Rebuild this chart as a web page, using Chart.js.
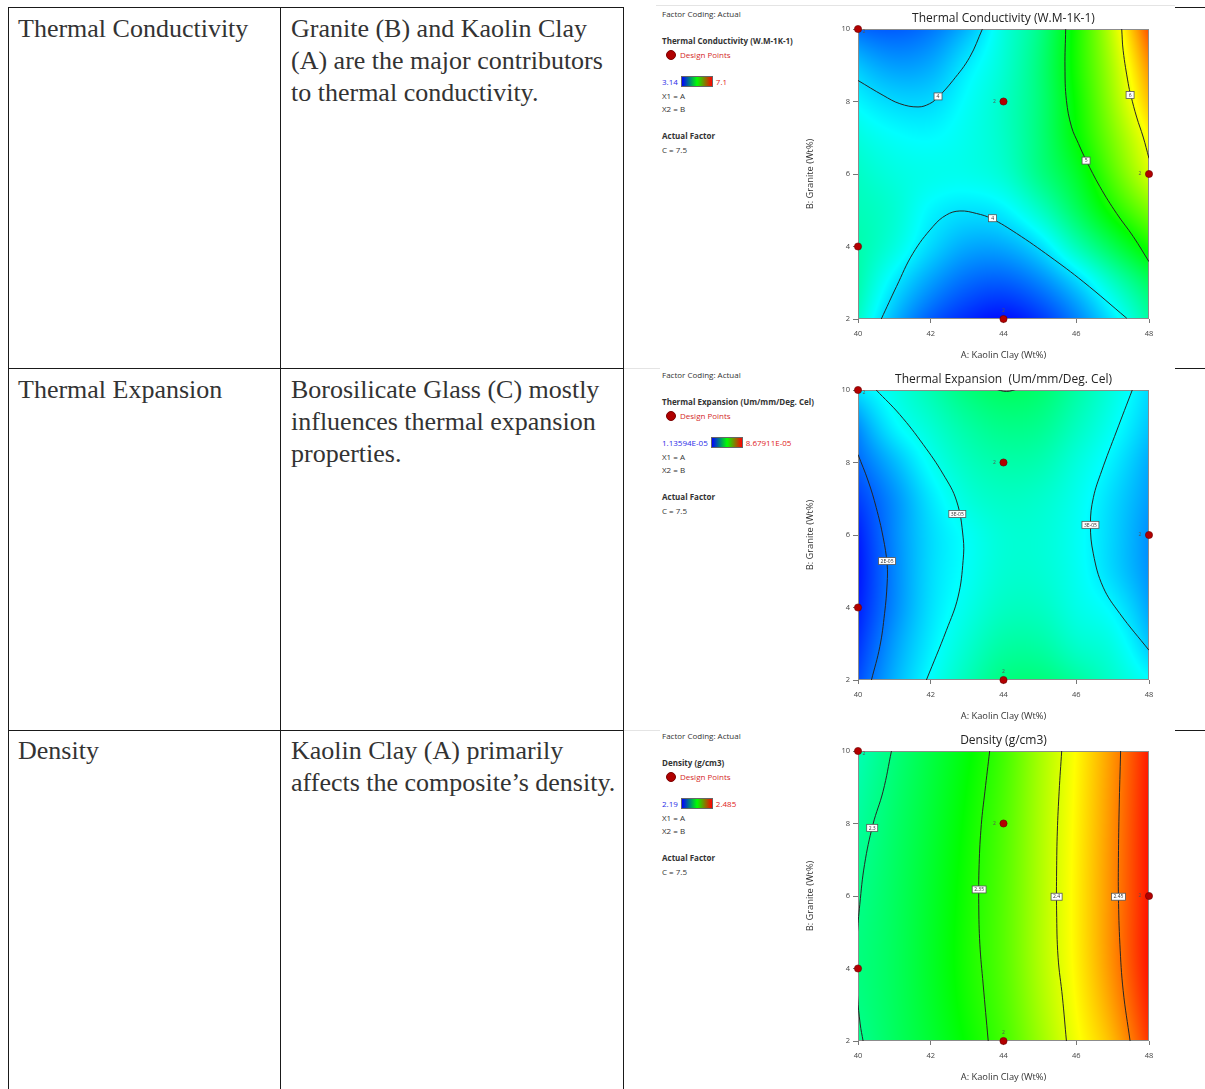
<!DOCTYPE html>
<html>
<head>
<meta charset="utf-8">
<script src="https://cdn.jsdelivr.net/npm/chart.js@4.4.1/dist/chart.umd.min.js"></script>
<style>
    body { margin: 0; background: #fff; width: 1205px; height: 1089px; overflow: hidden; position: relative; }
    .rule { position: absolute; background: #1a1a1a; }
    .soft { position: absolute; background: #e4e4e4; }
    .cell { position: absolute; font-family: 'Liberation Serif', serif; font-size: 26px; line-height: 32px; color: #333; white-space: nowrap; }
    .legend { position: absolute; left: 662px; width: 140px; height: 170px; font-family: 'Open Sans', sans-serif; font-size: 8px; color: #333; }
    .legend div { position: absolute; left: 0; white-space: nowrap; line-height: 10px; }
    .legend .bold { font-weight: bold; }
    .legend .dot { width: 10px; height: 10px; border-radius: 50%; background: #b00000; border: 1px solid #7a0000; box-sizing: border-box; left: 4px; }
    .legend .dp { left: 18px; color: #d42a2a; }
    .legend .bar { display: flex; align-items: center; }
    .legend .bar span.lo { color: #2a2ae8; }
    .legend .bar span.hi { color: #e02020; }
    .legend .bar span.ramp { display: inline-block; width: 32px; height: 11px; margin: 0 3px 0 3px; border: 1px solid #666; box-sizing: border-box;
        background: linear-gradient(to right, #0000ff, #00ff00, #ff0000); }
    canvas { position: absolute; left: 800px; }
</style>
</head>
<body>
<div id="page"></div>
<canvas id="chartTC" width="405" height="365" style="top:0px"></canvas>
<canvas id="chartTE" width="405" height="365" style="top:361px"></canvas>
<canvas id="chartDen" width="405" height="365" style="top:722px"></canvas>
<script>
// Jadval matnlari
const rowNames = ['Thermal Conductivity', 'Thermal Expansion', 'Density'];
const rowNotes = [
    ['Granite (B) and Kaolin Clay', '(A) are the major contributors', 'to thermal conductivity.'],
    ['Borosilicate Glass (C) mostly', 'influences thermal expansion', 'properties.'],
    ['Kaolin Clay (A) primarily', 'affects the composite\u2019s density.']
];

// Umumiy o'qlar
const kaolinTicks = [40, 42, 44, 46, 48];
const graniteTicks = [2, 4, 6, 8, 10];
const kaolinGrid = [40, 41, 42, 43, 44, 45, 46, 47, 48];
const graniteRows9 = [10, 9, 8, 7, 6, 5, 4, 3, 2];
const graniteRows5 = [10, 8, 6, 4, 2];

// Dizayn nuqtalari
const designKaolin = [40, 40, 44, 44, 48];
const designGranite = [10, 4, 8, 2, 6];
const designRuns = ['2', '', '2', '2', '2'];

// Thermal Conductivity (W.M-1K-1)
const tcMin = 3.14, tcMax = 7.1;
const tcGrid = [
    [3.55, 3.50, 3.60, 3.85, 4.25, 4.60, 5.20, 5.90, 6.80],
    [3.90, 3.75, 3.80, 4.05, 4.30, 4.65, 5.20, 5.80, 6.55],
    [4.10, 3.98, 3.98, 4.15, 4.35, 4.65, 5.15, 5.72, 6.35],
    [4.25, 4.15, 4.12, 4.20, 4.35, 4.65, 5.10, 5.60, 6.12],
    [4.35, 4.25, 4.20, 4.20, 4.30, 4.60, 4.95, 5.45, 5.95],
    [4.40, 4.30, 4.10, 4.02, 4.08, 4.35, 4.75, 5.20, 5.60],
    [4.45, 4.25, 3.98, 3.80, 3.80, 4.00, 4.40, 4.80, 5.20],
    [4.45, 4.05, 3.75, 3.55, 3.50, 3.65, 3.95, 4.35, 4.75],
    [4.35, 3.85, 3.50, 3.30, 3.20, 3.35, 3.65, 4.05, 4.50]
];
const tcLine4Top = [[40, 8.58], [40.69, 8.17], [41.15, 7.94], [41.65, 7.85], [41.97, 7.94], [42.2, 8.12], [42.61, 8.58], [43.07, 9.22], [43.42, 10]];
const tcLine4Bottom = [[40.64, 2], [41.06, 2.9], [41.51, 3.81], [42.06, 4.55], [42.43, 4.87], [42.8, 4.98], [43.26, 4.91], [43.67, 4.77], [44.36, 4.36], [45.28, 3.72], [46.19, 3.03], [47.39, 2.02]];
const tcLine5 = [[45.71, 10], [45.69, 8.95], [45.73, 8.03], [45.87, 7.3], [46.06, 6.84], [46.27, 6.38], [46.65, 5.65], [47.11, 4.91], [47.57, 4.27], [48, 3.58]];
const tcLine6 = [[47.25, 10], [47.29, 9.4], [47.43, 8.49], [47.5, 8.17], [47.66, 7.57], [47.84, 7.02], [48, 6.43]];
const tcLabelText = ['4', '4', '5', '6'];
const tcLabelAt = [[42.2, 8.14], [43.7, 4.78], [46.27, 6.37], [47.48, 8.18]];

// Thermal Expansion (Um/mm/Deg. Cel), qiymatlar E-05 birlikda
const teMin = 1.13594, teMax = 8.67911;
const teGrid = [
    [2.85, 3.20, 3.60, 4.00, 4.20, 4.10, 3.70, 3.25, 2.75],
    [2.20, 2.95, 3.35, 3.70, 3.90, 3.85, 3.50, 3.10, 2.60],
    [1.90, 2.50, 3.10, 3.48, 3.65, 3.60, 3.28, 2.90, 2.40],
    [1.60, 2.20, 2.85, 3.28, 3.45, 3.40, 3.15, 2.75, 2.30],
    [1.35, 2.15, 2.75, 3.08, 3.32, 3.32, 3.10, 2.70, 2.20],
    [1.28, 2.12, 2.76, 3.08, 3.34, 3.34, 3.12, 2.72, 2.22],
    [1.35, 2.15, 2.80, 3.18, 3.46, 3.46, 3.20, 2.95, 2.35],
    [1.50, 2.30, 2.90, 3.35, 3.68, 3.68, 3.40, 3.20, 2.60],
    [1.70, 2.45, 3.05, 3.55, 3.95, 4.00, 3.75, 3.40, 3.05]
];
const teLine2 = [[40, 8.22], [40.28, 7.49], [40.5, 6.76], [40.69, 5.94], [40.8, 5.2], [40.8, 4.65], [40.73, 3.83], [40.6, 2.92], [40.37, 2]];
const teLine3Left = [[40.5, 10], [41.15, 9.32], [41.79, 8.5], [42.34, 7.68], [42.71, 6.94], [42.89, 5.94], [42.89, 5.3], [42.75, 4.29], [42.43, 3.37], [41.88, 2]];
const teLine3Right = [[47.54, 10], [47.11, 8.87], [46.7, 7.77], [46.47, 7.03], [46.39, 6.3], [46.47, 5.48], [46.74, 4.56], [47.2, 3.83], [48, 2.82]];
const teLine4 = [[43.76, 10.03], [44.08, 9.96], [44.4, 10.03]];
const teLabelText = ['2E-05', '3E-05', '3E-05'];
const teLabelAt = [[40.8, 5.28], [42.73, 6.58], [46.39, 6.28]];

// Density (g/cm3)
const denMin = 2.19, denMax = 2.485;
const denGrid = [
    [2.285, 2.302, 2.318, 2.335, 2.356, 2.385, 2.412, 2.442, 2.478],
    [2.292, 2.307, 2.322, 2.340, 2.360, 2.387, 2.414, 2.444, 2.480],
    [2.298, 2.310, 2.325, 2.343, 2.362, 2.388, 2.415, 2.445, 2.480],
    [2.301, 2.311, 2.326, 2.344, 2.362, 2.388, 2.414, 2.444, 2.480],
    [2.296, 2.310, 2.323, 2.339, 2.357, 2.382, 2.408, 2.432, 2.470]
];
const denLine230 = [[40.92, 10], [40.69, 8.89], [40.41, 7.97], [40.18, 6.87], [40.05, 5.77], [39.98, 4.9], [39.96, 4.1], [39.99, 3.2], [40.06, 2.47], [40.14, 2]];
const denLine235 = [[43.62, 10], [43.49, 8.89], [43.39, 7.97], [43.33, 6.87], [43.32, 5.77], [43.35, 4.67], [43.44, 3.57], [43.58, 2]];
const denLine240 = [[45.6, 10], [45.53, 8.89], [45.48, 7.79], [45.46, 6.69], [45.46, 5.59], [45.5, 4.31], [45.62, 3.21], [45.73, 2]];
const denLine245 = [[47.22, 10], [47.18, 8.43], [47.16, 7.06], [47.16, 5.98], [47.2, 4.67], [47.29, 3.39], [47.48, 2]];
const denLabelText = ['2.3', '2.35', '2.4', '2.45'];
const denLabelAt = [[40.39, 7.88], [43.33, 6.18], [45.46, 5.98], [47.16, 5.98]];

// Legend matnlari
const legendResponse = ['Thermal Conductivity (W.M-1K-1)', 'Thermal Expansion  (Um/mm/Deg. Cel)', 'Density (g/cm3)'];
const legendLow = ['3.14', '1.13594E-05', '2.19'];
const legendHigh = ['7.1', '8.67911E-05', '2.485'];
const panelTops = [0, 361, 722];

// Jadval chiziqlari va matn
function buildPage() {
    const page = document.getElementById('page');
    let html = '';
    const rule = (x, y, w, h, cls) => `<div class="${cls || 'rule'}" style="left:${x}px;top:${y}px;width:${w}px;height:${h}px"></div>`;
    html += rule(8, 7, 615, 1);
    html += rule(8, 368, 615, 1);
    html += rule(8, 730, 615, 1);
    html += rule(8, 7, 1, 1082);
    html += rule(280, 7, 1, 1082);
    html += rule(623, 7, 1, 1082);
    html += rule(1175, 7, 30, 1);
    html += rule(1175, 368, 30, 1);
    html += rule(1175, 730, 30, 1);
    html += rule(656, 5, 519, 1, 'soft');
    html += rule(624, 368, 36, 1, 'soft');
    html += rule(624, 730, 36, 1, 'soft');

    panelTops.forEach((top, i) => {
        html += `<div class="cell" style="left:18px;top:${top + 13}px">${rowNames[i]}</div>`;
        html += `<div class="cell" style="left:291px;top:${top + 13}px">${rowNotes[i].join('<br>')}</div>`;
        html += `
            <div class="legend" style="top:${top}px">
                <div style="top:9px">Factor Coding: Actual</div>
                <div class="bold" style="top:36px">${legendResponse[i]}</div>
                <div class="dot" style="top:50px"></div>
                <div class="dp" style="top:50px">Design Points</div>
                <div class="bar" style="top:76px"><span class="lo">${legendLow[i]}</span><span class="ramp"></span><span class="hi">${legendHigh[i]}</span></div>
                <div style="top:91px">X1 = A</div>
                <div style="top:104px">X2 = B</div>
                <div class="bold" style="top:131px">Actual Factor</div>
                <div style="top:145px">C = 7.5</div>
            </div>`;
    });
    page.innerHTML = html;
}

// Rang shkalasi: ko'k -> moviy -> yashil -> sariq -> qizil
const rampStops = [0, 0.25, 0.5, 0.75, 1];
const rampColors = [[0, 0, 255], [0, 255, 255], [0, 255, 0], [255, 255, 0], [255, 0, 0]];

function rampColor(t) {
    t = Math.min(1, Math.max(0, t));
    let k = 0;
    while (k < rampStops.length - 2 && t > rampStops[k + 1]) k++;
    const f = (t - rampStops[k]) / (rampStops[k + 1] - rampStops[k]);
    const a = rampColors[k], b = rampColors[k + 1];
    return [a[0] + (b[0] - a[0]) * f, a[1] + (b[1] - a[1]) * f, a[2] + (b[2] - a[2]) * f];
}

function padGrid(g) {
    const ext = a => [3 * a[0] - 3 * a[1] + a[2], ...a, 3 * a[a.length - 1] - 3 * a[a.length - 2] + a[a.length - 3]];
    const rows = g.map(ext);
    const first = [], last = [];
    for (let c = 0; c < rows[0].length; c++) {
        const col = ext(rows.map(r => r[c]));
        first.push(col[0]);
        last.push(col[col.length - 1]);
    }
    return [first, ...rows, last];
}

function cubic(p0, p1, p2, p3, t) {
    return p1 + 0.5 * t * (p2 - p0 + t * (2 * p0 - 5 * p1 + 4 * p2 - p3 + t * (3 * (p1 - p2) + p3 - p0)));
}

function sampleGrid(p, fx, fy) {
    const nc = p[0].length - 2, nr = p.length - 2;
    const ix = Math.min(Math.max(Math.floor(fx), 0), nc - 2), tx = fx - ix;
    const iy = Math.min(Math.max(Math.floor(fy), 0), nr - 2), ty = fy - iy;
    const r = [];
    for (let m = 0; m < 4; m++) {
        const row = p[iy + m];
        r.push(cubic(row[ix], row[ix + 1], row[ix + 2], row[ix + 3], tx));
    }
    return cubic(r[0], r[1], r[2], r[3], ty);
}

function surfacePlugin(title, grid, rows, lo, hi, labelText, labelAt) {
    const padded = padGrid(grid);
    return {
        id: 'surface',
        beforeDatasetsDraw(chart) {
            const { ctx, chartArea: a, scales: { x, y } } = chart;
            const left = Math.round(a.left), top = Math.round(a.top);
            const w = Math.round(a.right) - left, h = Math.round(a.bottom) - top;
            const off = document.createElement('canvas');
            off.width = w;
            off.height = h;
            const octx = off.getContext('2d');
            const img = octx.createImageData(w, h);
            for (let j = 0; j < h; j++) {
                const fy = (y.getValueForPixel(top + j + 0.5) - rows[0]) / (rows[1] - rows[0]);
                for (let i = 0; i < w; i++) {
                    const fx = (x.getValueForPixel(left + i + 0.5) - kaolinGrid[0]) / (kaolinGrid[1] - kaolinGrid[0]);
                    const c = rampColor((sampleGrid(padded, fx, fy) - lo) / (hi - lo));
                    const k = (j * w + i) * 4;
                    img.data[k] = c[0];
                    img.data[k + 1] = c[1];
                    img.data[k + 2] = c[2];
                    img.data[k + 3] = 255;
                }
            }
            octx.putImageData(img, 0, 0);
            ctx.drawImage(off, left, top);
            ctx.save();
            ctx.strokeStyle = '#8c8c8c';
            ctx.lineWidth = 1;
            ctx.strokeRect(left + 0.5, top + 0.5, w - 1, h - 1);
            // sarlavha
            ctx.fillStyle = '#222';
            ctx.font = '12px "Open Sans"';
            ctx.textAlign = 'center';
            ctx.textBaseline = 'middle';
            ctx.fillText(title, (a.left + a.right) / 2, a.top - 10);
            ctx.restore();
        },
        afterDatasetsDraw(chart) {
            const { ctx, scales: { x, y } } = chart;
            ctx.save();
            ctx.font = '5px "Open Sans"';
            ctx.textAlign = 'center';
            ctx.textBaseline = 'middle';
            labelText.forEach((txt, i) => {
                const px = x.getPixelForValue(labelAt[i][0]);
                const py = y.getPixelForValue(labelAt[i][1]);
                const bw = Math.max(8, ctx.measureText(txt).width + 4);
                ctx.fillStyle = '#ffffff';
                ctx.fillRect(px - bw / 2, py - 3.5, bw, 7);
                ctx.strokeStyle = '#555';
                ctx.lineWidth = 0.8;
                ctx.strokeRect(px - bw / 2, py - 3.5, bw, 7);
                ctx.fillStyle = '#333';
                ctx.fillText(txt, px, py + 0.3);
            });
            // takroriy nuqtalar soni
            const place = [[6, 3], null, [-9, 0], [0, -8], [-9, 0]];
            ctx.fillStyle = '#555';
            designRuns.forEach((txt, i) => {
                if (!txt) return;
                ctx.fillText(txt, x.getPixelForValue(designKaolin[i]) + place[i][0], y.getPixelForValue(designGranite[i]) + place[i][1]);
            });
            ctx.restore();
        }
    };
}

function makePanel(id, title, grid, rows, lo, hi, lines, labelText, labelAt) {
    const datasets = [{
        type: 'scatter',
        data: designKaolin.map((v, i) => ({ x: v, y: designGranite[i] })),
        pointRadius: 3.6,
        pointBackgroundColor: '#b30000',
        pointBorderColor: '#6a0000',
        pointBorderWidth: 0.6,
        clip: false
    }];
    lines.forEach(line => {
        datasets.push({
            type: 'line',
            data: line.map(p => ({ x: p[0], y: p[1] })),
            borderColor: '#262626',
            borderWidth: 1,
            pointRadius: 0,
            tension: 0.4,
            fill: false,
            clip: 0
        });
    });

    const tickFont = { family: 'Open Sans', size: 7.5 };
    const titleFont = { family: 'Open Sans', size: 9.3 };

    return new Chart(document.getElementById(id), {
        type: 'scatter',
        data: { datasets: datasets },
        plugins: [surfacePlugin(title, grid, rows, lo, hi, labelText, labelAt)],
        options: {
            responsive: false,
            animation: false,
            events: [],
            layout: { padding: { top: 29, right: 56, bottom: 0, left: 0 } },
            plugins: {
                legend: { display: false },
                tooltip: { enabled: false },
                title: { display: false }
            },
            scales: {
                x: {
                    type: 'linear',
                    min: 40,
                    max: 48,
                    afterBuildTicks: s => { s.ticks = kaolinTicks.map(v => ({ value: v })); },
                    afterFit: s => { s.height = 46; },
                    grid: { drawOnChartArea: false, drawTicks: true, tickLength: 4, color: '#777' },
                    border: { display: false },
                    ticks: { font: tickFont, color: '#444', padding: 6, maxRotation: 0 },
                    title: { display: true, text: 'A: Kaolin Clay (Wt%)', color: '#333', font: titleFont, padding: { top: 0, bottom: 4 } }
                },
                y: {
                    type: 'linear',
                    min: 2,
                    max: 10,
                    afterBuildTicks: s => { s.ticks = graniteTicks.map(v => ({ value: v })); },
                    afterFit: s => { s.width = 58; },
                    grid: { drawOnChartArea: false, drawTicks: true, tickLength: 5, color: '#777' },
                    border: { display: false },
                    ticks: { font: tickFont, color: '#444', padding: 3 },
                    title: { display: true, text: 'B: Granite (Wt%)', color: '#333', font: titleFont, padding: { top: 5, bottom: 0 } }
                }
            }
        }
    });
}

buildPage();
makePanel('chartTC', 'Thermal Conductivity (W.M-1K-1)', tcGrid, graniteRows9, tcMin, tcMax,
    [tcLine4Top, tcLine4Bottom, tcLine5, tcLine6], tcLabelText, tcLabelAt);
makePanel('chartTE', 'Thermal Expansion  (Um/mm/Deg. Cel)', teGrid, graniteRows9, teMin, teMax,
    [teLine2, teLine3Left, teLine3Right, teLine4], teLabelText, teLabelAt);
makePanel('chartDen', 'Density (g/cm3)', denGrid, graniteRows5, denMin, denMax,
    [denLine230, denLine235, denLine240, denLine245], denLabelText, denLabelAt);
</script>
</body>
</html>
